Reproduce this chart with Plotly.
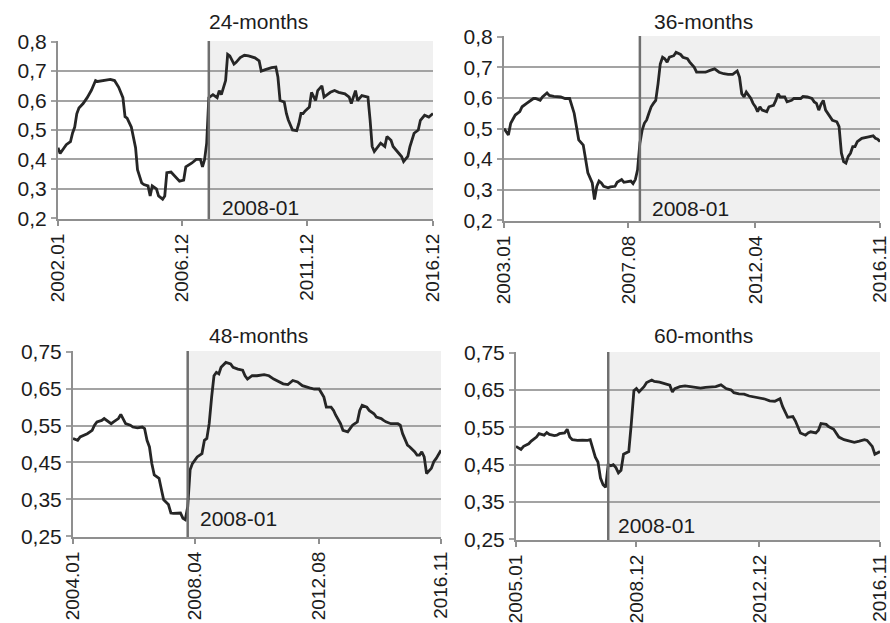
import pandas as pd
import plotly.graph_objects as go

W, H = 890, 623
BREAK = "2008-01"
BREAK_LABEL = "2008-01"

# ---- 24-month window (2002.01 - 2016.12), months counted from window start
start_24 = "2002-01"
months_24 = [0, 1, 4, 6, 7, 8, 9, 10, 12, 13, 14, 16, 18, 19, 21, 25, 27, 29, 31, 32,
             33, 35, 37, 38, 40, 41, 43, 44, 45, 47, 48, 50, 51, 52, 54, 56, 58, 60, 61, 64,
             66, 68, 69, 70, 71, 72, 74, 76, 77, 78, 80, 81, 82, 84, 85, 87, 89, 91, 94, 96,
             97, 99, 102, 104, 105, 106, 108, 109, 110, 112, 114, 115, 116, 117, 118, 120, 121, 123, 124, 126,
             127, 130, 132, 134, 137, 139, 140, 142, 143, 145, 147, 148, 149, 150, 151, 153, 154, 156, 157, 159,
             160, 162, 164, 165, 167, 168, 170, 172, 173, 175, 177, 179]
vals_24 = [0.44, 0.42, 0.45, 0.46, 0.49, 0.51, 0.555, 0.575, 0.59, 0.60, 0.61, 0.635, 0.668, 0.665, 0.668, 0.672, 0.668, 0.645, 0.61, 0.545,
           0.54, 0.51, 0.44, 0.365, 0.32, 0.315, 0.31, 0.276, 0.31, 0.30, 0.276, 0.265, 0.276, 0.355, 0.357, 0.343, 0.326, 0.33, 0.375, 0.388,
           0.40, 0.40, 0.375, 0.40, 0.455, 0.61, 0.62, 0.61, 0.634, 0.62, 0.668, 0.757, 0.752, 0.724, 0.73, 0.746, 0.754, 0.752, 0.745, 0.735,
           0.70, 0.705, 0.712, 0.714, 0.68, 0.60, 0.595, 0.556, 0.534, 0.50, 0.498, 0.522, 0.556, 0.556, 0.565, 0.578, 0.628, 0.60, 0.634, 0.65,
           0.612, 0.628, 0.634, 0.628, 0.623, 0.612, 0.59, 0.634, 0.60, 0.617, 0.612, 0.612, 0.534, 0.444, 0.427, 0.444, 0.455, 0.444, 0.478, 0.465,
           0.444, 0.427, 0.41, 0.393, 0.41, 0.444, 0.489, 0.50, 0.533, 0.55, 0.544, 0.556]
xticks_24 = ["2002.01", "2006.12", "2011.12", "2016.12"]

# ---- 36-month window (2003.01 - 2016.11)
start_36 = "2003-01"
months_36 = [0, 1, 2, 3, 4, 5, 7, 8, 10, 11, 13, 14, 16, 17, 19, 20, 22, 25, 27, 29,
             30, 31, 32, 33, 35, 36, 37, 39, 40, 41, 42, 43, 44, 46, 47, 49, 50, 52, 53, 56,
             57, 58, 59, 60, 61, 62, 63, 64, 65, 66, 67, 68, 69, 70, 71, 72, 73, 75, 76, 78,
             79, 81, 82, 84, 85, 86, 89, 91, 93, 95, 97, 99, 101, 103, 104, 105, 106, 107, 109, 110,
             111, 112, 113, 114, 116, 117, 119, 120, 121, 122, 124, 125, 127, 128, 131, 132, 134, 136, 137, 138,
             139, 140, 141, 142, 144, 145, 147, 148, 149, 150, 151, 152, 153, 154, 155, 156, 158, 160, 161, 163,
             164, 165, 166]
vals_36 = [0.50, 0.49, 0.479, 0.517, 0.533, 0.544, 0.555, 0.571, 0.582, 0.587, 0.598, 0.598, 0.592, 0.603, 0.616, 0.608, 0.605, 0.603, 0.598, 0.598,
           0.571, 0.55, 0.506, 0.463, 0.446, 0.398, 0.355, 0.322, 0.268, 0.311, 0.328, 0.322, 0.311, 0.306, 0.309, 0.311, 0.324, 0.333, 0.324, 0.328,
           0.32, 0.333, 0.365, 0.452, 0.495, 0.517, 0.528, 0.55, 0.571, 0.582, 0.592, 0.646, 0.711, 0.733, 0.728, 0.717, 0.733, 0.738, 0.749, 0.742,
           0.733, 0.728, 0.717, 0.70, 0.684, 0.684, 0.684, 0.69, 0.695, 0.684, 0.679, 0.677, 0.677, 0.688, 0.668, 0.614, 0.603, 0.619, 0.598, 0.582,
           0.571, 0.555, 0.571, 0.56, 0.555, 0.571, 0.576, 0.592, 0.614, 0.603, 0.603, 0.587, 0.592, 0.598, 0.598, 0.605, 0.603, 0.598, 0.587, 0.582,
           0.56, 0.58, 0.592, 0.56, 0.538, 0.527, 0.522, 0.506, 0.42, 0.392, 0.387, 0.409, 0.419, 0.441, 0.441, 0.457, 0.468, 0.473, 0.473, 0.476,
           0.468, 0.465, 0.457]
xticks_36 = ["2003.01", "2007.08", "2012.04", "2016.11"]

# ---- 48-month window (2004.01 - 2016.11)
start_48 = "2004-01"
months_48 = [0, 2, 3, 6, 8, 9, 10, 12, 13, 15, 16, 17, 19, 20, 21, 22, 24, 25, 27, 29,
             30, 31, 32, 33, 34, 36, 37, 38, 40, 41, 42, 43, 45, 46, 47, 48, 49, 50, 51, 52,
             54, 55, 56, 57, 58, 59, 60, 61, 62, 64, 66, 67, 69, 71, 72, 73, 75, 77, 80, 82,
             84, 86, 88, 90, 92, 94, 96, 99, 101, 103, 105, 106, 108, 109, 110, 112, 113, 115, 116, 117,
             119, 120, 121, 123, 124, 126, 127, 129, 130, 131, 133, 136, 137, 138, 140, 141, 143, 144, 145, 146,
             147, 148, 150, 151, 152, 154]
vals_48 = [0.515, 0.51, 0.519, 0.528, 0.537, 0.551, 0.56, 0.564, 0.569, 0.56, 0.555, 0.56, 0.569, 0.58, 0.569, 0.555, 0.551, 0.546, 0.544, 0.546,
           0.542, 0.51, 0.492, 0.447, 0.416, 0.407, 0.376, 0.349, 0.336, 0.313, 0.312, 0.312, 0.313, 0.299, 0.295, 0.33, 0.43, 0.447, 0.456, 0.465,
           0.474, 0.51, 0.515, 0.555, 0.627, 0.685, 0.694, 0.69, 0.708, 0.721, 0.717, 0.708, 0.703, 0.70, 0.685, 0.676, 0.685, 0.685, 0.688, 0.685,
           0.676, 0.67, 0.663, 0.661, 0.672, 0.668, 0.658, 0.652, 0.649, 0.649, 0.627, 0.60, 0.60, 0.591, 0.578, 0.555, 0.537, 0.533, 0.542, 0.551,
           0.56, 0.591, 0.605, 0.60, 0.591, 0.582, 0.573, 0.569, 0.564, 0.56, 0.555, 0.555, 0.551, 0.528, 0.497, 0.492, 0.479, 0.47, 0.47, 0.479,
           0.465, 0.42, 0.434, 0.452, 0.461, 0.483]
xticks_48 = ["2004.01", "2008.04", "2012.08", "2016.11"]

# ---- 60-month window (2005.01 - 2016.11)
start_60 = "2005-01"
months_60 = [0, 2, 3, 5, 6, 8, 9, 11, 12, 13, 15, 16, 17, 19, 20, 21, 22, 24, 26, 28,
             29, 30, 31, 32, 33, 34, 35, 36, 37, 38, 39, 40, 41, 42, 43, 44, 45, 46, 47, 48,
             50, 51, 53, 54, 56, 58, 60, 61, 62, 64, 66, 68, 70, 72, 74, 76, 78, 80, 82, 84,
             85, 87, 89, 91, 93, 95, 97, 99, 101, 103, 104, 106, 108, 109, 110, 111, 113, 114, 115, 117,
             118, 119, 121, 122, 124, 125, 126, 128, 130, 132, 134, 136, 137, 139, 140, 141, 142]
vals_60 = [0.499, 0.491, 0.499, 0.506, 0.513, 0.524, 0.533, 0.529, 0.536, 0.531, 0.528, 0.529, 0.533, 0.535, 0.545, 0.524, 0.517, 0.515, 0.516, 0.515,
           0.517, 0.492, 0.47, 0.457, 0.414, 0.396, 0.389, 0.45, 0.447, 0.45, 0.442, 0.428, 0.435, 0.478, 0.481, 0.485, 0.56, 0.648, 0.654, 0.645,
           0.659, 0.67, 0.677, 0.673, 0.671, 0.666, 0.663, 0.645, 0.654, 0.659, 0.661, 0.659, 0.657, 0.655, 0.657, 0.659, 0.659, 0.664, 0.654, 0.65,
           0.643, 0.64, 0.639, 0.634, 0.631, 0.627, 0.626, 0.621, 0.62, 0.627, 0.606, 0.577, 0.579, 0.567, 0.549, 0.535, 0.529, 0.535, 0.538, 0.535,
           0.542, 0.56, 0.558, 0.552, 0.545, 0.535, 0.524, 0.517, 0.513, 0.51, 0.513, 0.517, 0.515, 0.499, 0.478, 0.481, 0.485]
xticks_60 = ["2005.01", "2008.12", "2012.12", "2016.11"]

# y-axis ticks (comma decimal separator)
yticks_top = [0.2, 0.3, 0.4, 0.5, 0.6, 0.7, 0.8]
ylabels_top = ["0,2", "0,3", "0,4", "0,5", "0,6", "0,7", "0,8"]
yticks_bottom = [0.25, 0.35, 0.45, 0.55, 0.65, 0.75]
ylabels_bottom = ["0,25", "0,35", "0,45", "0,55", "0,65", "0,75"]

FONT = "Liberation Sans, Arial, sans-serif"
FS = 21
FS_X = 19
TXT = "#1c1c1c"
GRID = "#a3a3a3"
AXIS = "#8f8f8f"
SHADE = "#f0f0f0"
VLINE = "#6f6f6f"
LINE = "#262626"


def month_ts(label):
    return pd.Period(label.replace(".", "-"), freq="M").to_timestamp()


def month_series(start, offsets):
    p0 = pd.Period(start, freq="M")
    return [(p0 + int(m)).to_timestamp() for m in offsets]


# panel layout: plot box in pixels (left, right, top, bottom), title centre, label offset
panels = [
    dict(title="24-months", start=start_24, months=months_24, vals=vals_24, xt=xticks_24,
         yt=yticks_top, yl=ylabels_top, box=(58, 433, 41, 219), tpos=(258, 22), lab=(11, 11)),
    dict(title="36-months", start=start_36, months=months_36, vals=vals_36, xt=xticks_36,
         yt=yticks_top, yl=ylabels_top, box=(504, 880, 36, 221), tpos=(703, 22), lab=(10, 13)),
    dict(title="48-months", start=start_48, months=months_48, vals=vals_48, xt=xticks_48,
         yt=yticks_bottom, yl=ylabels_bottom, box=(73, 441, 351, 537), tpos=(258, 335), lab=(10, 19)),
    dict(title="60-months", start=start_60, months=months_60, vals=vals_60, xt=xticks_60,
         yt=yticks_bottom, yl=ylabels_bottom, box=(516, 880, 352, 540), tpos=(703, 335), lab=(8, 15)),
]

fig = go.Figure()
layout = dict(
    width=W, height=H,
    margin=dict(l=0, r=0, t=0, b=0),
    paper_bgcolor="white", plot_bgcolor="white",
    showlegend=False,
    font=dict(family=FONT, color=TXT, size=FS),
)
shapes, annotations = [], []

for i, p in enumerate(panels, start=1):
    xs = month_series(p["start"], p["months"])
    xn = "x" if i == 1 else f"x{i}"
    yn = "y" if i == 1 else f"y{i}"
    fig.add_trace(go.Scatter(x=xs, y=p["vals"], mode="lines", xaxis=xn, yaxis=yn,
                             line=dict(color=LINE, width=2.8), hoverinfo="skip"))

    l, r, t, b = p["box"]
    tick_dates = [month_ts(s) for s in p["xt"]]
    brk = month_ts(BREAK)
    yr = (min(p["yt"]), max(p["yt"]))
    pad = (yr[1] - yr[0]) * 0.004

    layout[f"xaxis{'' if i == 1 else i}"] = dict(
        domain=[l / W, r / W], anchor=yn, type="date", automargin=False,
        range=[tick_dates[0], tick_dates[-1]],
        tickvals=tick_dates, ticktext=p["xt"], tickangle=-90,
        ticklabeloverflow="allow",
        showgrid=False, zeroline=False,
        showline=True, linecolor=AXIS, linewidth=2,
        ticks="outside", ticklen=5, tickwidth=1.5, tickcolor=AXIS,
        tickfont=dict(family=FONT, size=FS_X, color=TXT),
    )
    layout[f"yaxis{'' if i == 1 else i}"] = dict(
        domain=[1 - b / H, 1 - t / H], anchor=xn, automargin=False,
        range=[yr[0] - pad, yr[1] + pad],
        tickvals=p["yt"], ticktext=p["yl"],
        showgrid=True, gridcolor=GRID, gridwidth=2, zeroline=False,
        showline=True, linecolor=AXIS, linewidth=2,
        ticks="outside", ticklen=5, tickwidth=2, tickcolor=GRID,
        tickfont=dict(family=FONT, size=FS, color=TXT),
    )

    # post-2008 shaded period
    shapes.append(dict(type="rect", xref=xn, yref=f"{yn} domain",
                       x0=brk, x1=tick_dates[-1], y0=0, y1=1,
                       fillcolor=SHADE, line=dict(width=0), layer="below"))
    # break marker
    shapes.append(dict(type="line", xref=xn, yref=f"{yn} domain",
                       x0=brk, x1=brk, y0=0, y1=1,
                       line=dict(color=VLINE, width=2.5), layer="above"))
    annotations.append(dict(text=BREAK_LABEL, xref=xn, yref=f"{yn} domain",
                            x=brk, y=0, xanchor="left", yanchor="middle",
                            xshift=p["lab"][0], yshift=p["lab"][1], showarrow=False,
                            font=dict(family=FONT, size=FS, color=TXT)))
    annotations.append(dict(text=p["title"], xref="paper", yref="paper",
                            x=p["tpos"][0] / W, y=1 - p["tpos"][1] / H,
                            xanchor="center", yanchor="middle", showarrow=False,
                            font=dict(family=FONT, size=FS, color=TXT)))

layout["shapes"] = shapes
layout["annotations"] = annotations
fig.update_layout(**layout)

fig.write_html("out.html")
